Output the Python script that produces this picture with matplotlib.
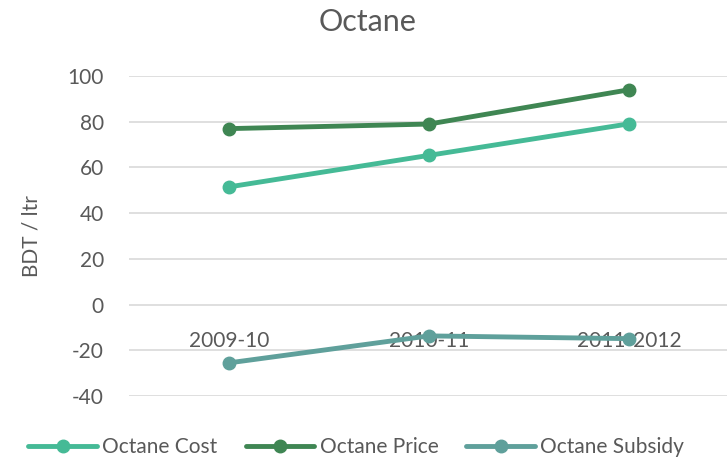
import numpy as np
import matplotlib
matplotlib.use('Agg')
import matplotlib.pyplot as plt

plt.rcParams['font.family'] = ['Lato', 'DejaVu Sans']
plt.rcParams['axes.unicode_minus'] = False

years = ['2009-10', '2010-11', '2011-2012']
octane_cost = [51.5, 65.3, 79.1]
octane_price = [77.0, 79.0, 94.0]
octane_subsidy = [-25.5, -13.7, -14.9]

series = [
    ('Octane Cost', octane_cost, '#45BA96'),
    ('Octane Price', octane_price, '#3F8653'),
    ('Octane Subsidy', octane_subsidy, '#5FA09B'),
]

text_col = '#595959'
grid_col = '#D9D9D9'

fig = plt.figure(figsize=(7.27, 4.61), dpi=100)
ax = fig.add_axes([0.1774, 0.141, 0.8253, 0.694])

x = np.arange(len(years))
for name, vals, col in series:
    ax.plot(x, vals, color=col, lw=3.5, marker='o', ms=9,
            solid_capstyle='round', label=name, zorder=3)

ax.set_xlim(-0.5, len(years) - 0.5)
ax.set_ylim(-40, 100)
ax.set_yticks(np.arange(-40, 101, 20))
ax.set_xticks(x)
ax.set_xticklabels(years)

ax.grid(axis='y', color=grid_col, lw=1.2, zorder=0)
ax.set_axisbelow(True)
for s in ['top', 'right', 'left']:
    ax.spines[s].set_visible(False)
ax.spines['bottom'].set_position(('data', 0))
ax.spines['bottom'].set_visible(False)

ax.tick_params(axis='x', length=0, pad=19, labelsize=15, labelcolor=text_col)
ax.tick_params(axis='y', length=0, pad=18, labelsize=15, labelcolor=text_col)

ax.set_ylabel('BDT / ltr', fontsize=15, color=text_col)
ax.yaxis.set_label_coords(-0.145, 0.5)

fig.text(0.505, 0.952, 'Octane', ha='center', va='center', fontsize=22, color=text_col)

fig.legend(loc='center', bbox_to_anchor=(0.49, 0.03), ncol=3, frameon=False,
           fontsize=15, handlelength=3.3, handletextpad=0.25, columnspacing=1.35,
           labelcolor=text_col)

fig.savefig('out.png', dpi=100)
